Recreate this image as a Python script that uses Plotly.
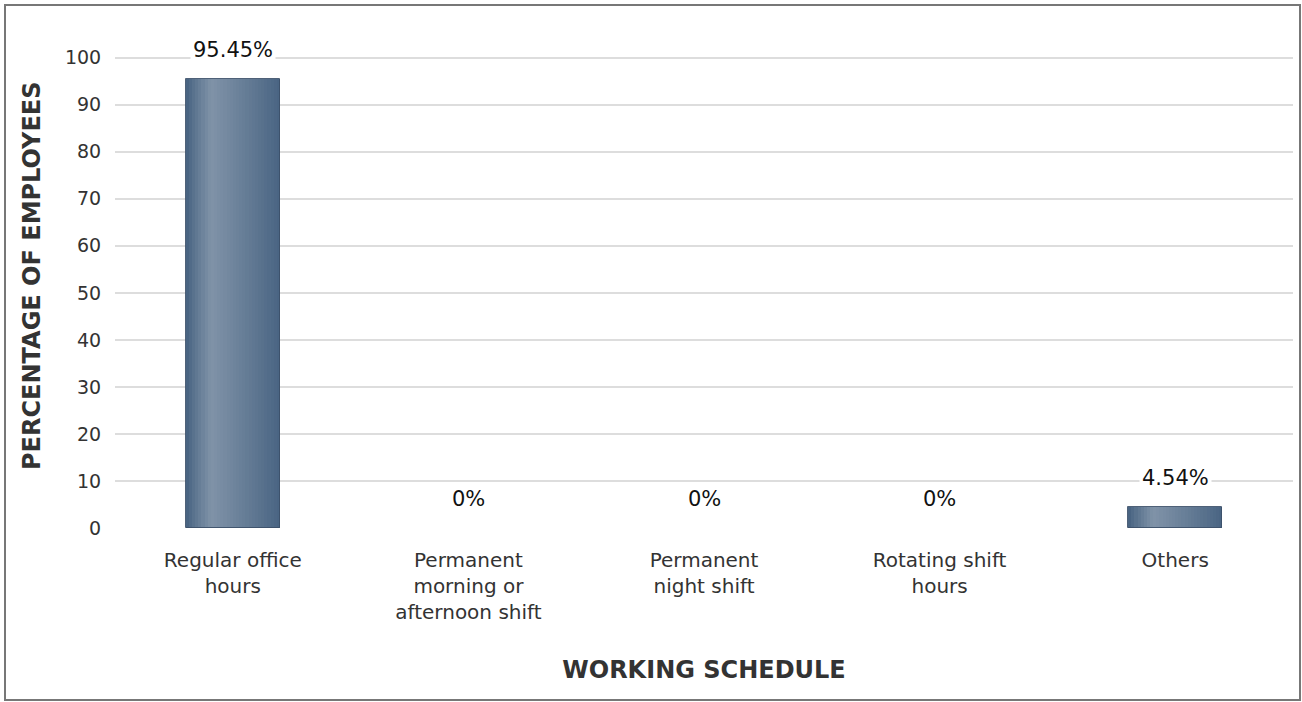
import plotly.graph_objects as go

# Working schedule survey results
categories = [
    "Regular office<br>hours",
    "Permanent<br>morning or<br>afternoon shift",
    "Permanent<br>night shift",
    "Rotating shift<br>hours",
    "Others",
]
percentages = [95.45, 0, 0, 0, 4.54]
y_ticks = [0, 10, 20, 30, 40, 50, 60, 70, 80, 90, 100]

W, H = 1302, 702
M_L, M_R, M_T, M_B = 115, 9, 53, 174

DARK = (68, 96, 127)
LIGHT = (128, 147, 168)
BAR_WIDTH = 0.4
SLICES = 30
PEAK = 0.27


def shade(t):
    # bright streak left of centre, darker towards both edges
    if t <= PEAK:
        f = t / PEAK
    else:
        f = 1 - (t - PEAK) / (1 - PEAK) * 0.95
    f = max(0.0, min(1.0, f)) ** 0.9
    r, g, b = (round(d + (l - d) * f) for d, l in zip(DARK, LIGHT))
    return f"rgb({r},{g},{b})"


fig = go.Figure()
xs = list(range(len(categories)))

# Each bar is built from narrow vertical slices to give a cylindrical shading
slice_w = BAR_WIDTH / SLICES
for i in range(SLICES):
    t = (i + 0.5) / SLICES
    fig.add_trace(go.Bar(
        x=xs,
        y=percentages,
        width=slice_w * 1.02,
        offset=-BAR_WIDTH / 2 + i * slice_w,
        marker=dict(color=shade(t), line=dict(width=0)),
        hoverinfo="skip",
        showlegend=False,
    ))

# thin outline around each non-empty bar
fig.add_trace(go.Bar(
    x=xs,
    y=percentages,
    width=BAR_WIDTH,
    marker=dict(
        color="rgba(0,0,0,0)",
        line=dict(color="rgba(60,80,105,0.9)", width=[1 if v > 0 else 0 for v in percentages]),
    ),
    hoverinfo="skip",
    showlegend=False,
))

# value labels above each bar
for i, v in enumerate(percentages):
    fig.add_annotation(
        x=i, y=v, text=f"{v:g}%", showarrow=False,
        yshift=29, bgcolor="white", borderpad=2,
        font=dict(family="DejaVu Sans", size=21, color="#111111"),
    )

pw = W - M_L - M_R
ph = H - M_T - M_B

# vertical axis title, placed a little above the plot centre
fig.add_annotation(
    xref="paper", yref="paper",
    x=(32 - M_L) / pw, y=(H - M_B - 276) / ph,
    xanchor="center", yanchor="middle",
    text="<b>PERCENTAGE OF EMPLOYEES</b>", textangle=-90, showarrow=False,
    font=dict(family="DejaVu Sans", size=24, color="#333333"),
)

# frame around the whole chart
fig.add_shape(
    type="rect", xref="paper", yref="paper",
    x0=(5 - M_L) / pw, x1=(1300 - M_L) / pw,
    y0=-(700 - (H - M_B)) / ph, y1=1 + (M_T - 5) / ph,
    line=dict(color="#777777", width=2), fillcolor="rgba(0,0,0,0)",
    layer="below",
)

fig.update_layout(
    width=W, height=H,
    margin=dict(l=M_L, r=M_R, t=M_T, b=M_B),
    barmode="overlay",
    bargap=0,
    plot_bgcolor="white",
    paper_bgcolor="white",
    font=dict(family="DejaVu Sans", color="#333333", size=19),
    xaxis=dict(
        tickmode="array",
        tickvals=xs,
        ticktext=categories,
        range=[-0.5, len(categories) - 0.5],
        showgrid=False, zeroline=False, showline=False,
        ticks="outside", ticklen=14, tickcolor="rgba(0,0,0,0)",
        tickfont=dict(size=20, color="#333333"),
        title=dict(text="<b>WORKING SCHEDULE</b>", font=dict(size=24, color="#333333"), standoff=38),
    ),
    yaxis=dict(
        tickmode="array",
        tickvals=y_ticks,
        range=[0, 101],
        showgrid=True, gridcolor="#dddddd", gridwidth=1.5,
        zeroline=False, showline=False,
        ticks="outside", ticklen=9, tickcolor="rgba(0,0,0,0)",
        tickfont=dict(size=19, color="#333333"),
    ),
)

fig.write_html("out.html")
